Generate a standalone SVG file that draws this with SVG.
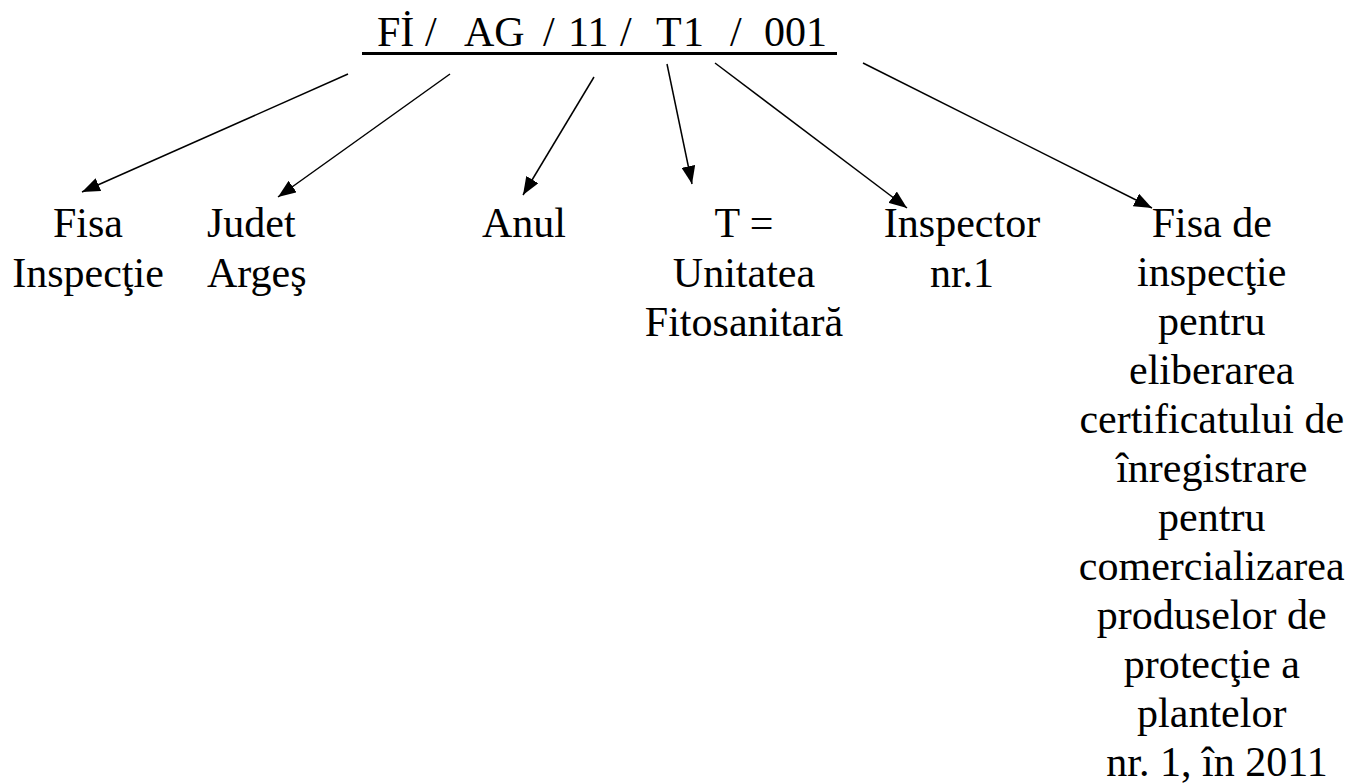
<svg xmlns="http://www.w3.org/2000/svg" width="1358" height="784" viewBox="0 0 1358 784" font-family="'Liberation Serif', 'DejaVu Serif', serif">
<style>
text{font-family:'Liberation Serif','Times New Roman',serif;font-size:42px;fill:#000}
.c{text-anchor:middle}
.conn line{stroke:#000;stroke-width:1.5;fill:none}
</style>
<defs>
<marker id="ah" markerUnits="userSpaceOnUse" markerWidth="18" markerHeight="14" refX="18" refY="7" orient="auto">
<path d="M0,0 L18,7 L0,14 Z" fill="#000"/>
</marker>
</defs>
<rect width="1358" height="784" fill="#fff"/>
<g id="title">
<text y="46" font-family="Liberation Serif"><tspan x="377">Fİ</tspan> <tspan x="425">/</tspan> <tspan x="464">AG</tspan> <tspan x="543">/</tspan> <tspan x="568">11</tspan> <tspan x="620">/</tspan> <tspan x="656">T</tspan> <tspan x="683">1</tspan> <tspan x="730">/</tspan> <tspan x="764">001</tspan></text>
<line x1="362" y1="53.5" x2="837" y2="53.5" stroke="#000" stroke-width="3"/>
</g>
<g class="conn" id="connectors">
<line x1="348" y1="74" x2="82" y2="192" marker-end="url(#ah)"/>
<line x1="450" y1="74" x2="278" y2="197" marker-end="url(#ah)"/>
<line x1="594" y1="77" x2="523" y2="195" marker-end="url(#ah)"/>
<line x1="667" y1="64" x2="692" y2="184" marker-end="url(#ah)"/>
<line x1="715" y1="63" x2="907" y2="208" marker-end="url(#ah)"/>
<line x1="863" y1="63" x2="1152" y2="208" marker-end="url(#ah)"/>
</g>
<g id="n1"><text class="c" x="88" font-family="Liberation Serif"><tspan x="88" y="237">Fisa</tspan><tspan x="88" y="287">Inspecţie</tspan></text></g>
<g id="n2"><text x="207" font-family="Liberation Serif"><tspan x="207" y="237">Judet</tspan><tspan x="207" y="287">Argeş</tspan></text></g>
<g id="n3"><text x="482" y="237" font-family="Liberation Serif">Anul</text></g>
<g id="n4"><text class="c" font-family="Liberation Serif"><tspan x="744" y="237">T =</tspan><tspan x="744" y="287">Unitatea</tspan><tspan x="744" y="336">Fitosanitară</tspan></text></g>
<g id="n5"><text class="c" font-family="Liberation Serif"><tspan x="962" y="237">Inspector</tspan><tspan x="962" y="287">nr.1</tspan></text></g>
<g id="n6"><text class="c" font-family="Liberation Serif">
<tspan x="1217" y="237">Fisa de</tspan>
<tspan x="1217" y="286">inspecţie</tspan>
<tspan x="1217" y="335">pentru</tspan>
<tspan x="1217" y="384">eliberarea</tspan>
<tspan x="1217" y="433">certificatului de</tspan>
<tspan x="1217" y="482">înregistrare</tspan>
<tspan x="1217" y="531">pentru</tspan>
<tspan x="1217" y="580">comercializarea</tspan>
<tspan x="1217" y="629">produselor de</tspan>
<tspan x="1217" y="678">protecţie a</tspan>
<tspan x="1217" y="727">plantelor</tspan>
<tspan x="1217" y="776">nr. 1, în 2011</tspan>
</text></g>
</svg>
